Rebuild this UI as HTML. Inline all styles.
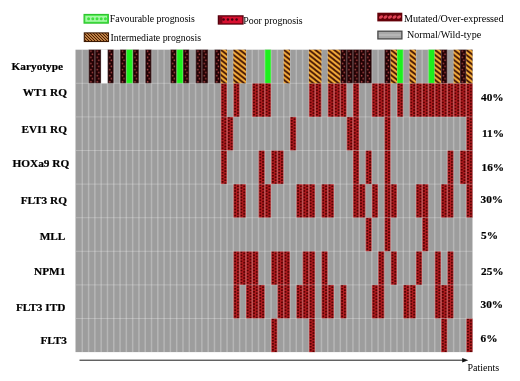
<!DOCTYPE html>
<html><head><meta charset="utf-8"><title>Figure</title>
<style>
html,body{margin:0;padding:0;background:#fff;}
body{width:520px;height:381px;overflow:hidden;}
svg{display:block;filter:blur(0.45px);}
text{font-family:"Liberation Serif","Times New Roman",serif;fill:#000;}
.b{font-weight:bold;font-size:11.3px;stroke:#000;stroke-width:0.2px;}
.l{font-size:10.1px;}
.s{font-size:9.85px;}
</style></head><body>
<svg width="520" height="381" viewBox="0 0 520 381">
<defs>
<pattern id="pMut" width="6.2937" height="3.055" patternUnits="userSpaceOnUse" x="76" y="49.7">
<rect width="6.2937" height="3.055" fill="#b21d21"/>
<circle cx="1.7" cy="0.76" r="1.12" fill="#580000"/>
<circle cx="4.7" cy="2.29" r="1.12" fill="#580000"/>
</pattern>
<pattern id="pPoor" width="6.2937" height="6.11" patternUnits="userSpaceOnUse" x="76" y="49.7">
<rect width="6.2937" height="6.11" fill="#220103"/>
<circle cx="2.4" cy="1.5" r="0.8" fill="#a84646"/>
<circle cx="3.9" cy="4.55" r="0.8" fill="#a84646"/>
</pattern>
<pattern id="pInt" width="6.2937" height="5" patternUnits="userSpaceOnUse" x="76" y="49.7">
<rect width="6.2937" height="5" fill="#ffb63c"/>
<path d="M-6.2937,-5 L12.5874,10 M0,-5 L12.5874,5 M-6.2937,0 L6.2937,10" stroke="#3a0c00" stroke-width="1.8"/>
</pattern>
<pattern id="pLegInt" width="3" height="3" patternUnits="userSpaceOnUse">
<rect width="3" height="3" fill="#bd8044"/>
<path d="M-1,-1 L4,4 M-1,2 L1,4 M2,-1 L4,1" stroke="#4a1c00" stroke-width="1"/>
</pattern>
</defs>
<rect width="520" height="381" fill="#ffffff"/>
<!-- legend -->
<rect x="84.1" y="14.5" width="24.2" height="8.6" fill="#44ea44" stroke="#2fc42f" stroke-width="1.2"/>
<rect x="85.4" y="15.8" width="21.6" height="6" fill="#a6f8a6"/>
<g fill="#3fe23f"><circle cx="88.6" cy="18.8" r="1.5"/><circle cx="92.8" cy="18.8" r="1.5"/><circle cx="97.0" cy="18.8" r="1.5"/><circle cx="101.2" cy="18.8" r="1.5"/><circle cx="105.4" cy="18.8" r="1.5"/></g>
<text x="109.8" y="22.3" class="l s">Favourable prognosis</text>
<rect x="84.3" y="32.9" width="24.2" height="8.6" fill="url(#pLegInt)" stroke="#3c1a04" stroke-width="1.1"/>
<text x="110.5" y="41" class="l s">Intermediate prognosis</text>
<rect x="218.4" y="15.9" width="24.6" height="8.1" fill="#d81030" stroke="#56000c" stroke-width="1.3"/>
<rect x="219" y="16.5" width="3.4" height="6.9" fill="#7a0618"/>
<g fill="#4a0010"><circle cx="223.6" cy="19.6" r="1.25"/><circle cx="227.9" cy="19.6" r="1.25"/><circle cx="232.2" cy="19.6" r="1.25"/><circle cx="236.6" cy="19.6" r="1.25"/></g>
<text x="243.3" y="23.8" class="l s">Poor prognosis</text>
<rect x="377.3" y="12.7" width="25" height="8.7" fill="#640008"/>
<g fill="#e04456"><ellipse cx="381.0" cy="17" rx="2.3" ry="1.4" transform="rotate(-35 381.0 17)"/><ellipse cx="385.5" cy="17" rx="2.3" ry="1.4" transform="rotate(-35 385.5 17)"/><ellipse cx="390.0" cy="17" rx="2.3" ry="1.4" transform="rotate(-35 390.0 17)"/><ellipse cx="394.5" cy="17" rx="2.3" ry="1.4" transform="rotate(-35 394.5 17)"/><ellipse cx="399.0" cy="17" rx="2.3" ry="1.4" transform="rotate(-35 399.0 17)"/></g>
<text x="404" y="21.7" class="l">Mutated/Over-expressed</text>
<rect x="377.9" y="31.2" width="24" height="7.7" fill="#a8a8a8" stroke="#484848" stroke-width="1.3"/>
<rect x="379" y="34.3" width="21.8" height="1.4" fill="#bcbcbc"/>
<text x="407" y="38.4" class="l">Normal/Wild-type</text>
<!-- grid -->
<rect x="75.5" y="49.7" width="397" height="302.4" fill="#9d9d9d"/>
<g>
<rect x="88.59" y="49.7" width="12.59" height="33.6" fill="url(#pPoor)"/>
<rect x="107.47" y="49.7" width="6.29" height="33.6" fill="url(#pPoor)"/>
<rect x="120.06" y="49.7" width="6.29" height="33.6" fill="url(#pPoor)"/>
<rect x="132.64" y="49.7" width="6.29" height="33.6" fill="url(#pPoor)"/>
<rect x="145.23" y="49.7" width="6.29" height="33.6" fill="url(#pPoor)"/>
<rect x="170.4" y="49.7" width="6.29" height="33.6" fill="url(#pPoor)"/>
<rect x="182.99" y="49.7" width="6.29" height="33.6" fill="url(#pPoor)"/>
<rect x="195.58" y="49.7" width="12.59" height="33.6" fill="url(#pPoor)"/>
<rect x="214.46" y="49.7" width="6.29" height="33.6" fill="url(#pPoor)"/>
<rect x="340.33" y="49.7" width="31.47" height="33.6" fill="url(#pPoor)"/>
<rect x="384.39" y="49.7" width="6.29" height="33.6" fill="url(#pPoor)"/>
<rect x="441.03" y="49.7" width="6.29" height="33.6" fill="url(#pPoor)"/>
<rect x="459.91" y="49.7" width="6.29" height="33.6" fill="url(#pPoor)"/>
<rect x="126.35" y="49.7" width="6.29" height="33.6" fill="#1cf01c"/>
<rect x="176.7" y="49.7" width="6.29" height="33.6" fill="#1cf01c"/>
<rect x="264.81" y="49.7" width="6.29" height="33.6" fill="#1cf01c"/>
<rect x="396.98" y="49.7" width="6.29" height="33.6" fill="#1cf01c"/>
<rect x="428.44" y="49.7" width="6.29" height="33.6" fill="#1cf01c"/>
<rect x="101.17" y="49.7" width="6.29" height="33.6" fill="#ffffff"/>
<rect x="220.75" y="83.3" width="6.29" height="33.6" fill="url(#pMut)"/>
<rect x="233.34" y="83.3" width="6.29" height="33.6" fill="url(#pMut)"/>
<rect x="252.22" y="83.3" width="18.88" height="33.6" fill="url(#pMut)"/>
<rect x="308.87" y="83.3" width="12.59" height="33.6" fill="url(#pMut)"/>
<rect x="327.75" y="83.3" width="18.88" height="33.6" fill="url(#pMut)"/>
<rect x="352.92" y="83.3" width="6.29" height="33.6" fill="url(#pMut)"/>
<rect x="371.8" y="83.3" width="18.88" height="33.6" fill="url(#pMut)"/>
<rect x="396.98" y="83.3" width="6.29" height="33.6" fill="url(#pMut)"/>
<rect x="409.56" y="83.3" width="62.94" height="33.6" fill="url(#pMut)"/>
<rect x="220.75" y="116.9" width="12.59" height="33.6" fill="url(#pMut)"/>
<rect x="289.98" y="116.9" width="6.29" height="33.6" fill="url(#pMut)"/>
<rect x="346.63" y="116.9" width="12.59" height="33.6" fill="url(#pMut)"/>
<rect x="384.39" y="116.9" width="6.29" height="33.6" fill="url(#pMut)"/>
<rect x="466.21" y="116.9" width="6.29" height="33.6" fill="url(#pMut)"/>
<rect x="220.75" y="150.5" width="6.29" height="33.6" fill="url(#pMut)"/>
<rect x="258.52" y="150.5" width="6.29" height="33.6" fill="url(#pMut)"/>
<rect x="271.1" y="150.5" width="12.59" height="33.6" fill="url(#pMut)"/>
<rect x="352.92" y="150.5" width="6.29" height="33.6" fill="url(#pMut)"/>
<rect x="365.51" y="150.5" width="6.29" height="33.6" fill="url(#pMut)"/>
<rect x="384.39" y="150.5" width="6.29" height="33.6" fill="url(#pMut)"/>
<rect x="447.33" y="150.5" width="6.29" height="33.6" fill="url(#pMut)"/>
<rect x="459.91" y="150.5" width="12.59" height="33.6" fill="url(#pMut)"/>
<rect x="233.34" y="184.1" width="12.59" height="33.6" fill="url(#pMut)"/>
<rect x="258.52" y="184.1" width="12.59" height="33.6" fill="url(#pMut)"/>
<rect x="296.28" y="184.1" width="18.88" height="33.6" fill="url(#pMut)"/>
<rect x="321.45" y="184.1" width="12.59" height="33.6" fill="url(#pMut)"/>
<rect x="352.92" y="184.1" width="12.59" height="33.6" fill="url(#pMut)"/>
<rect x="371.8" y="184.1" width="6.29" height="33.6" fill="url(#pMut)"/>
<rect x="384.39" y="184.1" width="12.59" height="33.6" fill="url(#pMut)"/>
<rect x="415.86" y="184.1" width="12.59" height="33.6" fill="url(#pMut)"/>
<rect x="441.03" y="184.1" width="12.59" height="33.6" fill="url(#pMut)"/>
<rect x="466.21" y="184.1" width="6.29" height="33.6" fill="url(#pMut)"/>
<rect x="365.51" y="217.7" width="6.29" height="33.6" fill="url(#pMut)"/>
<rect x="384.39" y="217.7" width="6.29" height="33.6" fill="url(#pMut)"/>
<rect x="422.15" y="217.7" width="6.29" height="33.6" fill="url(#pMut)"/>
<rect x="233.34" y="251.3" width="25.17" height="33.6" fill="url(#pMut)"/>
<rect x="271.1" y="251.3" width="18.88" height="33.6" fill="url(#pMut)"/>
<rect x="302.57" y="251.3" width="12.59" height="33.6" fill="url(#pMut)"/>
<rect x="321.45" y="251.3" width="6.29" height="33.6" fill="url(#pMut)"/>
<rect x="378.1" y="251.3" width="6.29" height="33.6" fill="url(#pMut)"/>
<rect x="390.68" y="251.3" width="6.29" height="33.6" fill="url(#pMut)"/>
<rect x="415.86" y="251.3" width="6.29" height="33.6" fill="url(#pMut)"/>
<rect x="434.74" y="251.3" width="6.29" height="33.6" fill="url(#pMut)"/>
<rect x="447.33" y="251.3" width="6.29" height="33.6" fill="url(#pMut)"/>
<rect x="233.34" y="284.9" width="6.29" height="33.6" fill="url(#pMut)"/>
<rect x="245.93" y="284.9" width="18.88" height="33.6" fill="url(#pMut)"/>
<rect x="277.4" y="284.9" width="12.59" height="33.6" fill="url(#pMut)"/>
<rect x="296.28" y="284.9" width="18.88" height="33.6" fill="url(#pMut)"/>
<rect x="321.45" y="284.9" width="12.59" height="33.6" fill="url(#pMut)"/>
<rect x="340.33" y="284.9" width="6.29" height="33.6" fill="url(#pMut)"/>
<rect x="371.8" y="284.9" width="12.59" height="33.6" fill="url(#pMut)"/>
<rect x="403.27" y="284.9" width="12.59" height="33.6" fill="url(#pMut)"/>
<rect x="434.74" y="284.9" width="18.88" height="33.6" fill="url(#pMut)"/>
<rect x="271.1" y="318.5" width="6.29" height="33.6" fill="url(#pMut)"/>
<rect x="308.87" y="318.5" width="6.29" height="33.6" fill="url(#pMut)"/>
<rect x="441.03" y="318.5" width="6.29" height="33.6" fill="url(#pMut)"/>
<rect x="466.21" y="318.5" width="6.29" height="33.6" fill="url(#pMut)"/>
</g>
<g fill="#ffffff" fill-opacity="0.26">
<rect x="81.54" y="49.7" width="1.5" height="302.4"/>
<rect x="87.84" y="49.7" width="1.5" height="302.4"/>
<rect x="94.13" y="49.7" width="1.5" height="302.4"/>
<rect x="100.42" y="49.7" width="1.5" height="302.4"/>
<rect x="106.72" y="49.7" width="1.5" height="302.4"/>
<rect x="113.01" y="49.7" width="1.5" height="302.4"/>
<rect x="119.31" y="49.7" width="1.5" height="302.4"/>
<rect x="125.6" y="49.7" width="1.5" height="302.4"/>
<rect x="131.89" y="49.7" width="1.5" height="302.4"/>
<rect x="138.19" y="49.7" width="1.5" height="302.4"/>
<rect x="144.48" y="49.7" width="1.5" height="302.4"/>
<rect x="150.77" y="49.7" width="1.5" height="302.4"/>
<rect x="157.07" y="49.7" width="1.5" height="302.4"/>
<rect x="163.36" y="49.7" width="1.5" height="302.4"/>
<rect x="169.65" y="49.7" width="1.5" height="302.4"/>
<rect x="175.95" y="49.7" width="1.5" height="302.4"/>
<rect x="182.24" y="49.7" width="1.5" height="302.4"/>
<rect x="188.54" y="49.7" width="1.5" height="302.4"/>
<rect x="194.83" y="49.7" width="1.5" height="302.4"/>
<rect x="201.12" y="49.7" width="1.5" height="302.4"/>
<rect x="207.42" y="49.7" width="1.5" height="302.4"/>
<rect x="213.71" y="49.7" width="1.5" height="302.4"/>
<rect x="220" y="49.7" width="1.5" height="302.4"/>
<rect x="226.3" y="49.7" width="1.5" height="302.4"/>
<rect x="232.59" y="49.7" width="1.5" height="302.4"/>
<rect x="238.88" y="49.7" width="1.5" height="302.4"/>
<rect x="245.18" y="49.7" width="1.5" height="302.4"/>
<rect x="251.47" y="49.7" width="1.5" height="302.4"/>
<rect x="257.77" y="49.7" width="1.5" height="302.4"/>
<rect x="264.06" y="49.7" width="1.5" height="302.4"/>
<rect x="270.35" y="49.7" width="1.5" height="302.4"/>
<rect x="276.65" y="49.7" width="1.5" height="302.4"/>
<rect x="282.94" y="49.7" width="1.5" height="302.4"/>
<rect x="289.23" y="49.7" width="1.5" height="302.4"/>
<rect x="295.53" y="49.7" width="1.5" height="302.4"/>
<rect x="301.82" y="49.7" width="1.5" height="302.4"/>
<rect x="308.12" y="49.7" width="1.5" height="302.4"/>
<rect x="314.41" y="49.7" width="1.5" height="302.4"/>
<rect x="320.7" y="49.7" width="1.5" height="302.4"/>
<rect x="327" y="49.7" width="1.5" height="302.4"/>
<rect x="333.29" y="49.7" width="1.5" height="302.4"/>
<rect x="339.58" y="49.7" width="1.5" height="302.4"/>
<rect x="345.88" y="49.7" width="1.5" height="302.4"/>
<rect x="352.17" y="49.7" width="1.5" height="302.4"/>
<rect x="358.46" y="49.7" width="1.5" height="302.4"/>
<rect x="364.76" y="49.7" width="1.5" height="302.4"/>
<rect x="371.05" y="49.7" width="1.5" height="302.4"/>
<rect x="377.35" y="49.7" width="1.5" height="302.4"/>
<rect x="383.64" y="49.7" width="1.5" height="302.4"/>
<rect x="389.93" y="49.7" width="1.5" height="302.4"/>
<rect x="396.23" y="49.7" width="1.5" height="302.4"/>
<rect x="402.52" y="49.7" width="1.5" height="302.4"/>
<rect x="408.81" y="49.7" width="1.5" height="302.4"/>
<rect x="415.11" y="49.7" width="1.5" height="302.4"/>
<rect x="421.4" y="49.7" width="1.5" height="302.4"/>
<rect x="427.69" y="49.7" width="1.5" height="302.4"/>
<rect x="433.99" y="49.7" width="1.5" height="302.4"/>
<rect x="440.28" y="49.7" width="1.5" height="302.4"/>
<rect x="446.58" y="49.7" width="1.5" height="302.4"/>
<rect x="452.87" y="49.7" width="1.5" height="302.4"/>
<rect x="459.16" y="49.7" width="1.5" height="302.4"/>
<rect x="465.46" y="49.7" width="1.5" height="302.4"/>
<rect x="76" y="82.8" width="396.5" height="1"/>
<rect x="76" y="116.4" width="396.5" height="1"/>
<rect x="76" y="150" width="396.5" height="1"/>
<rect x="76" y="183.6" width="396.5" height="1"/>
<rect x="76" y="217.2" width="396.5" height="1"/>
<rect x="76" y="250.8" width="396.5" height="1"/>
<rect x="76" y="284.4" width="396.5" height="1"/>
<rect x="76" y="318" width="396.5" height="1"/>
</g>
<g>
<rect x="220.75" y="49.7" width="6.29" height="33.6" fill="url(#pInt)"/>
<rect x="233.34" y="49.7" width="12.59" height="33.6" fill="url(#pInt)"/>
<rect x="283.69" y="49.7" width="6.29" height="33.6" fill="url(#pInt)"/>
<rect x="308.87" y="49.7" width="12.59" height="33.6" fill="url(#pInt)"/>
<rect x="327.75" y="49.7" width="12.59" height="33.6" fill="url(#pInt)"/>
<rect x="390.68" y="49.7" width="6.29" height="33.6" fill="url(#pInt)"/>
<rect x="409.56" y="49.7" width="6.29" height="33.6" fill="url(#pInt)"/>
<rect x="434.74" y="49.7" width="6.29" height="33.6" fill="url(#pInt)"/>
<rect x="453.62" y="49.7" width="6.29" height="33.6" fill="url(#pInt)"/>
<rect x="466.21" y="49.7" width="6.29" height="33.6" fill="url(#pInt)"/>
</g>
<!-- labels -->
<text x="63" y="69.7" text-anchor="end" class="b">Karyotype</text>
<text x="67" y="95.7" text-anchor="end" class="b">WT1 RQ</text>
<text x="67" y="133.3" text-anchor="end" class="b">EVI1 RQ</text>
<text x="69.3" y="167" text-anchor="end" class="b">HOXa9 RQ</text>
<text x="67" y="203.5" text-anchor="end" class="b">FLT3 RQ</text>
<text x="65.4" y="240.3" text-anchor="end" class="b">MLL</text>
<text x="65.4" y="274.6" text-anchor="end" class="b">NPM1</text>
<text x="65.4" y="311" text-anchor="end" class="b">FLT3 ITD</text>
<text x="67" y="343.6" text-anchor="end" class="b">FLT3</text>

<text x="481" y="101" class="b">40%</text>
<text x="482" y="136.7" class="b">11%</text>
<text x="481.5" y="170.7" class="b">16%</text>
<text x="480.5" y="202.9" class="b">30%</text>
<text x="481" y="238.9" class="b">5%</text>
<text x="481" y="274.5" class="b">25%</text>
<text x="480.5" y="308" class="b">30%</text>
<text x="480.5" y="342.3" class="b">6%</text>

<!-- axis -->
<line x1="79.5" y1="360.2" x2="464" y2="360.2" stroke="#1c1c1c" stroke-width="1"/>
<path d="M468.3,360.2 L462.2,357.9 L462.2,362.5 Z" fill="#111"/>
<text x="467.5" y="370.5" class="l" style="font-size:10px">Patients</text>
</svg>
</body></html>
